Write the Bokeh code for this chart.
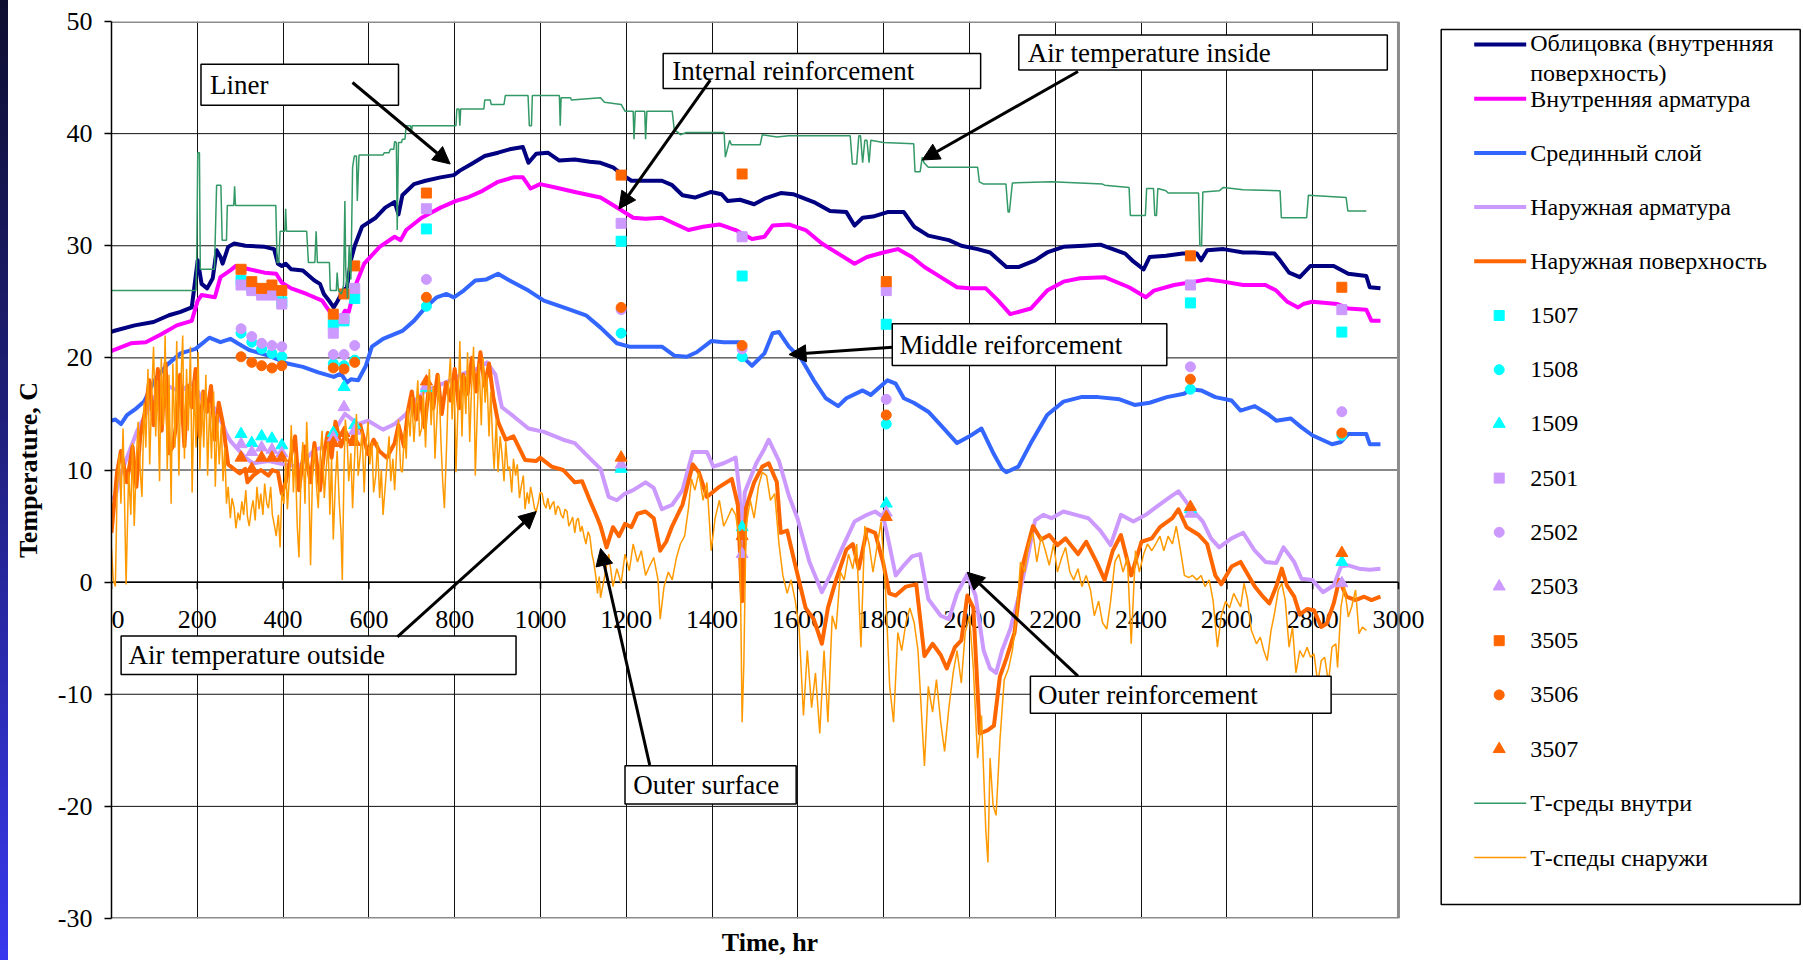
from bokeh.plotting import figure
from bokeh.models import Range1d, BoxAnnotation, Label, Arrow, NormalHead, FixedTicker, PrintfTickFormatter, Div
from bokeh.layouts import row
from bokeh.embed import file_html
from bokeh.resources import INLINE
from bokeh.core.properties import value

# ---------------- data ----------------
x_ticks = [0, 200, 400, 600, 800, 1000, 1200, 1400, 1600, 1800, 2000, 2200, 2400, 2600, 2800, 3000]
y_ticks = [-30, -20, -10, 0, 10, 20, 30, 40, 50]

liner = [(0, 22.3), (5, 22.4), (54, 22.9), (98, 23.2), (134, 23.8), (161, 24.1), (187, 24.5), (196, 27.2), (201, 28.7),
         (210, 26.6), (223, 26.2), (236, 27.1), (245, 29.6), (254, 29.0), (259, 28.4), (272, 29.9), (286, 30.2), (312, 30.0),
         (357, 29.9), (379, 29.7), (388, 28.4), (397, 28.2), (406, 28.4), (419, 27.9), (446, 27.8), (473, 26.9), (486, 26.6),
         (495, 25.7), (509, 25.0), (518, 24.5), (526, 25.0), (540, 26.0), (549, 26.3), (558, 28.7), (567, 30.0), (584, 31.7),
         (616, 32.5), (638, 33.4), (660, 33.9), (669, 32.8), (678, 34.5), (705, 35.5), (732, 35.8), (767, 36.1), (798, 36.3),
         (812, 36.7), (839, 37.3), (870, 38.0), (901, 38.3), (928, 38.6), (959, 38.8), (972, 37.4), (990, 38.2), (1017, 38.3),
         (1044, 37.6), (1080, 37.7), (1115, 37.5), (1140, 37.4), (1169, 37.0), (1192, 36.3), (1212, 35.8), (1283, 35.8),
         (1307, 35.4), (1331, 34.5), (1360, 34.3), (1398, 34.8), (1422, 34.6), (1436, 34.0), (1465, 34.1), (1498, 33.7),
         (1522, 34.2), (1560, 34.7), (1589, 34.6), (1637, 33.9), (1675, 33.1), (1713, 33.0), (1732, 31.8), (1751, 32.5),
         (1775, 32.6), (1809, 33.0), (1847, 33.0), (1871, 31.7), (1904, 30.9), (1952, 30.5), (1981, 30.0), (2019, 29.7),
         (2048, 29.4), (2086, 28.1), (2114, 28.1), (2153, 28.7), (2181, 29.4), (2219, 29.9), (2267, 30.0), (2305, 30.1),
         (2363, 29.3), (2382, 28.6), (2406, 27.9), (2420, 29.0), (2458, 29.1), (2497, 29.3), (2530, 29.3), (2540, 28.7),
         (2554, 29.6), (2592, 29.7), (2638, 29.4), (2665, 29.4), (2711, 29.3), (2724, 28.7), (2745, 27.6), (2770, 27.2),
         (2795, 28.2), (2849, 28.2), (2883, 27.5), (2925, 27.3), (2933, 26.3), (2958, 26.2)]

inner_rebar = [(0, 20.6), (5, 20.7), (45, 21.3), (80, 21.4), (116, 22.1), (152, 22.9), (187, 23.3), (201, 25.1), (210, 25.6),
               (241, 25.4), (254, 27.2), (277, 27.8), (290, 28.2), (321, 27.9), (357, 27.6), (384, 27.5), (397, 26.7),
               (419, 26.2), (455, 25.7), (491, 25.1), (509, 24.1), (518, 23.2), (531, 23.2), (544, 24.2), (553, 24.1),
               (567, 26.3), (589, 28.4), (625, 29.9), (660, 30.8), (674, 30.5), (687, 31.4), (723, 32.5), (767, 33.4),
               (803, 34.0), (830, 34.3), (865, 34.9), (901, 35.7), (937, 36.1), (959, 36.1), (977, 35.1), (999, 35.5),
               (1035, 35.2), (1080, 34.8), (1140, 34.3), (1183, 33.3), (1216, 32.5), (1245, 32.4), (1283, 32.5),
               (1317, 31.9), (1345, 31.4), (1379, 31.7), (1417, 31.9), (1455, 31.4), (1493, 30.6), (1522, 30.8),
               (1541, 31.8), (1579, 31.9), (1618, 31.4), (1656, 30.2), (1694, 29.3), (1732, 28.4), (1761, 29.0),
               (1799, 29.4), (1833, 29.7), (1866, 29.0), (1895, 28.1), (1933, 27.2), (1971, 26.3), (2000, 26.2),
               (2038, 26.2), (2067, 25.1), (2095, 23.9), (2143, 24.4), (2181, 26.0), (2219, 26.8), (2258, 27.1),
               (2315, 27.2), (2372, 26.3), (2411, 25.4), (2430, 26.0), (2477, 26.5), (2525, 26.8), (2554, 27.0),
               (2592, 26.8), (2638, 26.5), (2690, 26.5), (2715, 26.0), (2741, 25.0), (2766, 24.5), (2778, 24.8),
               (2799, 25.0), (2858, 24.8), (2883, 24.4), (2925, 24.3), (2937, 23.3), (2958, 23.3)]

middle_layer = [(0, 14.4), (9, 14.5), (22, 14.1), (36, 14.9), (58, 15.5), (76, 16.1), (100, 18.0), (130, 19.4), (161, 20.4),
                (196, 20.8), (228, 21.8), (254, 21.4), (277, 21.7), (294, 21.3), (321, 20.7), (366, 20.2), (410, 19.5),
                (446, 19.2), (482, 18.7), (518, 18.3), (535, 18.6), (549, 17.8), (558, 18.1), (575, 18.0), (593, 19.3),
                (607, 21.0), (633, 21.7), (678, 22.4), (705, 23.3), (732, 24.5), (758, 25.4), (781, 25.7), (798, 25.4),
                (821, 26.0), (848, 26.9), (874, 27.0), (901, 27.5), (928, 26.9), (972, 26.0), (1008, 25.1), (1062, 24.4),
                (1106, 23.8), (1140, 22.7), (1178, 21.3), (1207, 21.0), (1283, 21.0), (1312, 20.2), (1341, 20.1),
                (1364, 20.5), (1398, 21.5), (1427, 21.4), (1465, 21.4), (1479, 19.8), (1493, 19.3), (1522, 20.4),
                (1541, 22.2), (1556, 22.3), (1579, 21.0), (1608, 19.9), (1637, 18.0), (1665, 16.4), (1694, 15.7),
                (1713, 16.4), (1751, 17.1), (1770, 16.7), (1809, 18.0), (1828, 17.7), (1847, 16.4), (1870, 16.0),
                (1904, 15.2), (1933, 14.0), (1971, 12.4), (2000, 13.0), (2028, 13.7), (2057, 11.4), (2076, 10.1),
                (2086, 9.8), (2114, 10.3), (2143, 12.4), (2181, 14.9), (2219, 16.1), (2260, 16.5), (2300, 16.5),
                (2350, 16.3), (2385, 15.8), (2420, 16.0), (2460, 16.5), (2500, 16.8), (2516, 17.2), (2540, 17.1),
                (2573, 16.5), (2611, 16.2), (2632, 15.3), (2665, 15.7), (2695, 15.0), (2715, 14.4), (2749, 14.6),
                (2774, 13.8), (2799, 13.1), (2845, 12.3), (2866, 12.5), (2883, 13.2), (2925, 13.2), (2933, 12.3),
                (2958, 12.3)]

outer_rebar = [(0, 7.5), (9, 7.6), (20, 9.5), (40, 11.5), (60, 13.5), (80, 15.0), (100, 16.5), (130, 17.5), (160, 17.0),
               (190, 17.8), (214, 16.1), (240, 15.5), (260, 14.0), (268, 13.2), (277, 12.6), (312, 11.1), (330, 10.6),
               (366, 10.8), (402, 10.5), (437, 10.3), (473, 11.8), (500, 12.1), (518, 13.4), (544, 15.0), (575, 14.1),
               (598, 14.4), (633, 13.6), (660, 14.1), (687, 15.0), (705, 16.1), (730, 17.0), (760, 17.5), (790, 18.0),
               (820, 18.6), (850, 19.0), (875, 19.6), (895, 18.5), (905, 16.5), (910, 15.6), (937, 14.8), (972, 13.7),
               (1008, 13.4), (1053, 12.7), (1080, 12.4), (1106, 11.4), (1140, 10.1), (1159, 7.6), (1178, 7.3),
               (1197, 7.9), (1216, 8.2), (1245, 8.9), (1264, 8.4), (1283, 6.5), (1307, 6.9), (1331, 8.2), (1355, 11.6),
               (1388, 11.6), (1403, 10.3), (1427, 10.6), (1455, 11.1), (1464, 8.0), (1470, 2.5), (1476, 8.0),
               (1503, 10.6), (1522, 11.9), (1532, 12.7), (1556, 10.8), (1579, 7.7), (1599, 5.7), (1627, 1.8),
               (1656, -0.9), (1675, 0.6), (1704, 3.1), (1732, 5.4), (1761, 6.0), (1780, 6.3), (1799, 5.8), (1809, 4.1),
               (1828, 0.6), (1847, 1.5), (1866, 2.3), (1885, 2.5), (1904, -1.5), (1933, -3.0), (1952, -3.3),
               (1971, -1.0), (1995, 0.7), (2014, -1.2), (2033, -6.1), (2048, -7.7), (2062, -8.1), (2076, -6.1),
               (2095, -4.2), (2114, -1.4), (2133, 1.8), (2153, 5.5), (2172, 6.0), (2191, 5.7), (2219, 6.3), (2248, 6.0),
               (2277, 5.7), (2305, 4.6), (2329, 3.3), (2353, 6.0), (2382, 5.4), (2411, 6.0), (2439, 6.8), (2468, 7.6),
               (2487, 8.1), (2516, 6.6), (2544, 5.4), (2563, 3.9), (2582, 3.1), (2611, 3.9), (2638, 4.4), (2665, 2.8),
               (2690, 1.8), (2715, 1.7), (2732, 3.1), (2757, 1.8), (2774, 0.3), (2799, 0.2), (2824, -0.9), (2849, -0.3),
               (2866, 1.4), (2883, 1.5), (2908, 1.2), (2933, 1.1), (2958, 1.2)]

outer_surface = [(0, 4.4), (13, 9.8), (22, 11.7), (36, 8.9), (49, 12.1), (58, 8.5), (67, 13.0), (80, 15.6), (88, 18.0),
                 (98, 14.0), (108, 19.0), (117, 13.5), (126, 19.5), (134, 11.5), (143, 12.1), (152, 14.3), (160, 18.5),
                 (170, 12.1), (178, 17.5), (187, 15.6), (196, 19.0), (205, 13.0), (214, 17.0), (223, 15.2), (232, 17.5),
                 (241, 12.7), (250, 16.0), (259, 14.3), (272, 10.5), (285, 10.1), (299, 9.7), (312, 10.1), (317, 8.9),
                 (330, 9.5), (348, 10.0), (366, 9.5), (375, 10.0), (388, 9.8), (397, 7.9), (406, 8.9), (419, 11.4),
                 (428, 13.0), (437, 8.2), (450, 12.1), (464, 8.9), (473, 12.4), (486, 8.2), (495, 11.4), (504, 13.3),
                 (513, 11.1), (522, 14.3), (535, 12.1), (544, 13.0), (557, 12.4), (566, 13.3), (580, 14.0), (598, 11.4),
                 (611, 12.7), (624, 11.7), (642, 11.1), (660, 12.4), (669, 14.0), (682, 12.1), (691, 15.3), (700, 17.0),
                 (710, 14.5), (720, 16.5), (730, 13.8), (740, 17.5), (750, 15.5), (760, 18.5), (770, 15.0), (780, 17.8),
                 (790, 16.2), (800, 19.0), (810, 15.5), (820, 18.5), (830, 16.8), (840, 20.0), (850, 17.0), (860, 20.5),
                 (870, 17.5), (880, 19.5), (890, 16.5), (901, 14.3), (919, 12.7), (937, 13.0), (964, 10.9), (990, 10.8),
                 (999, 11.1), (1026, 10.3), (1053, 10.0), (1080, 8.9), (1097, 9.0), (1115, 7.3), (1133, 5.7), (1140, 5.0),
                 (1154, 3.1), (1169, 4.9), (1183, 4.1), (1197, 5.2), (1212, 4.9), (1226, 6.1), (1245, 6.3), (1264, 5.7),
                 (1279, 2.8), (1293, 3.6), (1307, 5.0), (1331, 6.9), (1355, 10.5), (1369, 9.8), (1388, 7.6), (1417, 8.5),
                 (1446, 9.2), (1460, 6.9), (1470, -1.7), (1479, 6.6), (1498, 8.9), (1517, 10.3), (1532, 10.6),
                 (1551, 8.9), (1560, 4.4), (1575, 4.6), (1594, 1.5), (1618, -2.3), (1637, -3.3), (1656, -5.5),
                 (1670, -2.3), (1689, 0.2), (1713, 2.9), (1728, 3.4), (1742, 1.2), (1761, 4.7), (1780, 4.4), (1799, 1.7),
                 (1813, -1.0), (1828, -1.2), (1852, -0.4), (1876, -0.2), (1895, -6.6), (1914, -5.5), (1933, -6.5),
                 (1947, -7.7), (1966, -5.8), (1981, -5.2), (1995, -1.2), (2009, -2.3), (2024, -13.5), (2043, -13.2),
                 (2057, -12.8), (2071, -8.4), (2086, -6.8), (2105, -4.5), (2124, 1.5), (2148, 5.0), (2167, 3.8),
                 (2186, 4.2), (2205, 3.3), (2224, 3.9), (2253, 2.5), (2272, 3.6), (2296, 1.8), (2315, 0.2), (2334, 2.8),
                 (2353, 4.2), (2377, 0.6), (2401, 3.6), (2425, 3.9), (2444, 4.9), (2473, 5.7), (2487, 6.5), (2506, 4.9),
                 (2535, 4.2), (2554, 3.4), (2573, 0.6), (2587, -0.2), (2611, 1.4), (2632, 1.8), (2665, -0.4),
                 (2682, -1.2), (2699, -1.9), (2715, -0.4), (2728, 1.2), (2740, -0.3), (2757, -1.3), (2770, -2.9),
                 (2787, -2.4), (2803, -2.5), (2820, -4.0), (2833, -3.7), (2849, -1.9), (2862, 0.2), (2879, -1.3),
                 (2900, -1.6), (2920, -1.3), (2937, -1.6), (2958, -1.3)]

inside_air = [(0, 26.0), (197, 26.0), (199, 30.0), (201, 38.3), (205, 38.3), (207, 27.9), (240, 27.9), (245, 35.4),
              (255, 35.4), (258, 30.5), (268, 30.5), (270, 33.6), (285, 33.6), (287, 35.3), (289, 33.6), (383, 33.6),
              (386, 28.5), (390, 28.5), (393, 31.3), (404, 31.3), (406, 33.3), (408, 31.3), (455, 31.3), (459, 28.5),
              (474, 28.5), (477, 31.3), (480, 28.5), (508, 28.5), (510, 26.0), (524, 26.0), (526, 27.6), (529, 26.0),
              (536, 25.7), (541, 26.5), (544, 34.0), (546, 28.0), (550, 25.3), (554, 30.0), (558, 27.0), (562, 37.0),
              (566, 38.0), (571, 38.0), (573, 34.0), (577, 38.1), (633, 38.1), (636, 38.3), (647, 38.3), (650, 38.6),
              (658, 38.6), (660, 39.3), (664, 39.2), (666, 31.4), (669, 39.2), (676, 39.2), (678, 39.5), (684, 39.5),
              (687, 40.7), (697, 40.7), (699, 40.0), (701, 40.7), (803, 40.7), (805, 42.2), (810, 42.2), (812, 40.7),
              (814, 42.2), (868, 42.2), (870, 43.0), (883, 43.0), (885, 42.6), (915, 42.6), (918, 43.4), (971, 43.4),
              (974, 40.7), (979, 40.7), (981, 43.4), (1044, 43.4), (1046, 40.7), (1048, 43.2), (1070, 43.2),
              (1072, 43.0), (1140, 43.2), (1149, 42.8), (1188, 42.6), (1197, 42.0), (1216, 42.0), (1218, 39.5),
              (1221, 42.0), (1243, 42.0), (1245, 39.5), (1248, 42.0), (1307, 42.0), (1312, 40.3), (1321, 40.1),
              (1326, 39.9), (1340, 40.1), (1428, 40.1), (1431, 37.9), (1441, 39.4), (1445, 39.0), (1512, 39.0),
              (1517, 39.9), (1551, 39.7), (1579, 39.8), (1722, 39.8), (1727, 37.3), (1737, 37.3), (1742, 39.8),
              (1746, 39.8), (1751, 37.4), (1756, 39.4), (1761, 39.4), (1766, 37.4), (1770, 39.4), (1799, 39.2),
              (1870, 39.1), (1873, 36.6), (1885, 36.6), (1890, 37.9), (1894, 37.4), (1904, 37.0), (2019, 37.0),
              (2023, 35.7), (2033, 35.5), (2085, 35.5), (2090, 33.0), (2093, 33.0), (2100, 35.6), (2191, 35.7),
              (2310, 35.5), (2315, 35.4), (2372, 35.2), (2375, 32.7), (2410, 32.7), (2413, 35.1), (2429, 35.1),
              (2432, 32.7), (2436, 32.7), (2439, 35.1), (2458, 34.9), (2463, 34.7), (2534, 34.7), (2537, 30.0),
              (2541, 30.0), (2544, 34.8), (2582, 34.9), (2592, 35.2), (2638, 35.0), (2724, 34.9), (2727, 32.5),
              (2786, 32.5), (2790, 34.5), (2878, 34.3), (2882, 33.1), (2925, 33.1)]

outside_air = [(0, 3.0), (4, 0.2), (9, -0.4), (13, 8.0), (18, 11.4), (22, 7.0), (27, 13.7), (31, 6.0), (34, -0.2), (40, 9.8),
               (45, 6.0), (49, 12.4), (53, 5.0), (58, 11.0), (62, 14.3), (67, 10.0), (71, 7.6), (76, 16.0), (80, 12.0),
               (85, 19.0), (89, 10.5), (94, 17.0), (98, 21.0), (103, 13.0), (107, 18.0), (112, 9.0), (116, 20.0),
               (121, 14.0), (125, 22.0), (130, 10.0), (134, 18.5), (139, 7.0), (143, 19.5), (148, 12.0), (152, 21.5),
               (157, 9.5), (161, 17.0), (166, 22.0), (170, 11.0), (175, 19.0), (179, 13.5), (184, 21.0), (188, 8.0),
               (193, 18.0), (197, 12.0), (202, 20.5), (206, 10.0), (211, 17.0), (215, 12.0), (220, 18.5), (224, 9.5),
               (229, 16.0), (233, 11.0), (238, 17.0), (242, 8.5), (247, 15.0), (251, 10.5), (256, 14.0), (260, 9.0),
               (264, 12.0), (268, 7.0), (272, 8.5), (277, 5.7), (281, 7.5), (286, 6.6), (290, 4.8), (295, 6.2),
               (299, 5.5), (304, 7.2), (308, 6.0), (313, 8.2), (317, 5.8), (321, 5.0), (326, 6.5), (330, 7.3), (335, 5.5),
               (339, 8.5), (344, 6.5), (348, 7.9), (353, 6.0), (357, 8.8), (362, 7.0), (366, 6.6), (371, 8.5), (375, 6.0),
               (380, 5.0), (384, 4.1), (389, 6.0), (393, 3.1), (397, 8.0), (402, 7.0), (406, 11.0), (410, 6.5),
               (415, 9.5), (419, 14.0), (424, 8.0), (428, 11.5), (433, 5.0), (437, 2.2), (442, 10.0), (446, 12.5),
               (451, 7.0), (455, 14.3), (460, 9.0), (464, 1.5), (469, 10.5), (473, 12.0), (478, 8.5), (482, 6.6),
               (487, 11.5), (491, 13.5), (496, 7.5), (500, 9.8), (505, 12.5), (509, 6.0), (513, 11.0), (517, 3.8),
               (522, 9.0), (526, 11.7), (531, 7.0), (535, 4.5), (538, 0.2), (542, 10.0), (545, 14.5), (549, 13.0),
               (553, 9.0), (558, 11.5), (562, 6.6), (566, 10.5), (571, 15.0), (575, 9.5), (580, 11.4), (584, 13.5),
               (589, 8.0), (593, 12.0), (598, 14.3), (602, 10.5), (607, 12.5), (611, 8.0), (616, 9.5), (620, 12.5),
               (625, 7.5), (629, 10.0), (633, 6.0), (638, 8.5), (642, 10.5), (647, 13.0), (651, 9.0), (656, 11.0),
               (660, 8.2), (665, 12.0), (669, 14.5), (674, 10.0), (678, 9.8), (683, 13.5), (687, 11.0), (691, 15.5),
               (696, 13.0), (700, 16.5), (705, 12.5), (709, 15.0), (714, 18.0), (718, 13.0), (723, 13.7), (727, 17.0),
               (732, 12.0), (736, 16.0), (741, 19.0), (745, 14.0), (750, 17.5), (754, 11.0), (759, 15.0), (763, 18.5),
               (768, 12.5), (772, 9.0), (776, 6.6), (781, 12.0), (785, 17.0), (790, 20.0), (794, 14.5), (799, 18.0),
               (803, 9.8), (808, 16.0), (812, 21.5), (817, 13.0), (821, 18.5), (826, 15.0), (830, 20.5), (835, 12.5),
               (839, 17.0), (844, 21.0), (848, 9.5), (853, 15.5), (857, 19.5), (862, 14.0), (866, 20.0), (871, 16.0),
               (875, 18.5), (880, 13.0), (884, 17.0), (889, 12.0), (892, 10.1), (897, 14.5), (901, 9.8), (906, 13.0),
               (910, 11.5), (915, 9.0), (919, 12.5), (924, 10.0), (928, 10.3), (933, 8.0), (937, 11.0), (942, 9.5),
               (946, 10.5), (951, 7.5), (955, 8.5), (960, 9.5), (964, 6.5), (969, 8.0), (973, 7.0), (977, 8.5),
               (982, 7.5), (986, 6.6), (990, 6.3), (995, 7.1), (999, 8.0), (1004, 7.9), (1008, 7.0), (1013, 6.6),
               (1017, 7.5), (1022, 6.5), (1026, 6.9), (1031, 7.2), (1035, 6.0), (1040, 6.8), (1044, 6.6), (1048, 6.0),
               (1053, 5.7), (1057, 6.5), (1062, 6.3), (1066, 5.0), (1071, 5.4), (1075, 5.8), (1080, 4.4), (1084, 5.5),
               (1088, 5.7), (1093, 4.5), (1097, 5.0), (1102, 4.0), (1106, 3.4), (1111, 4.5), (1115, 4.1), (1120, 2.5),
               (1124, 1.8), (1129, 0.5), (1133, -1.0), (1137, 0.5), (1140, -1.4), (1150, 0.6), (1159, 2.5),
               (1169, -0.4), (1178, 1.2), (1188, -0.1), (1197, 2.5), (1207, 1.0), (1216, 3.4), (1226, 1.8), (1235, 2.8),
               (1245, 0.6), (1255, 1.5), (1264, 2.2), (1274, 0.2), (1279, -3.3), (1288, -0.4), (1298, 0.9), (1307, 0.2),
               (1317, 2.2), (1326, 3.4), (1336, 4.1), (1345, 6.6), (1352, 9.2), (1360, 8.2), (1369, 9.8), (1379, 7.3),
               (1388, 8.9), (1398, 2.8), (1407, 5.7), (1417, 7.3), (1427, 5.0), (1436, 5.7), (1446, 6.6), (1455, 6.0),
               (1465, 3.4), (1470, -12.5), (1474, -7.4), (1479, 5.0), (1489, 7.3), (1498, 5.7), (1508, 8.5), (1517, 9.8),
               (1527, 9.5), (1536, 7.3), (1546, 7.9), (1556, 3.4), (1565, 0.6), (1575, -1.0), (1584, 0.2), (1594, -1.7),
               (1603, -4.2), (1613, -11.9), (1622, -6.1), (1632, -11.2), (1641, -8.1), (1651, -13.5), (1661, -6.1),
               (1670, -12.5), (1680, -3.0), (1689, -4.2), (1699, 0.9), (1708, 0.2), (1718, 2.5), (1728, 1.2),
               (1737, 3.4), (1747, -5.8), (1756, 5.0), (1766, 3.4), (1775, 0.9), (1794, 5.4), (1804, -0.4),
               (1814, -9.3), (1823, -12.5), (1833, -4.5), (1842, -6.1), (1852, -3.6), (1861, -2.3), (1871, -3.6),
               (1880, -6.1), (1895, -16.4), (1904, -9.3), (1914, -11.6), (1923, -8.7), (1933, -12.5), (1942, -15.1),
               (1952, -11.2), (1962, -8.1), (1971, -6.1), (1981, -9.0), (1990, -4.5), (2000, -3.0), (2009, -7.7),
               (2019, -15.7), (2028, -11.9), (2038, -22.1), (2043, -25.0), (2048, -15.7), (2055, -19.9), (2062, -20.8),
               (2071, -14.1), (2081, -8.7), (2091, -7.7), (2100, -6.1), (2110, -3.0), (2119, 1.8), (2129, 0.9),
               (2138, 3.4), (2148, 4.4), (2157, 1.8), (2167, 4.1), (2177, 2.8), (2186, 1.5), (2196, 3.4), (2205, 0.9),
               (2215, 2.2), (2224, 3.1), (2234, 0.9), (2243, 0.2), (2253, 1.2), (2262, -0.4), (2272, 0.6), (2282, -0.7),
               (2291, -3.0), (2301, -1.7), (2310, -3.6), (2320, -4.2), (2329, -1.7), (2339, 1.8), (2348, 2.5),
               (2358, 0.9), (2368, 2.2), (2377, -5.5), (2387, 2.8), (2396, 0.9), (2406, 2.5), (2415, 3.4), (2425, 2.8),
               (2434, 3.4), (2444, 4.1), (2453, 2.8), (2463, 4.1), (2473, 3.4), (2482, 5.0), (2492, 2.8), (2501, 0.6),
               (2511, 0.4), (2520, 0.6), (2530, 0.2), (2540, 0.6), (2549, -0.4), (2559, 0.2), (2568, -1.7),
               (2578, -5.8), (2587, -3.0), (2597, -1.7), (2606, -2.3), (2616, -1.0), (2625, -1.7), (2632, -2.2),
               (2640, -0.1), (2648, -1.5), (2657, -4.3), (2669, -5.5), (2678, -4.9), (2686, -6.1), (2694, -7.0),
               (2703, -4.3), (2711, -2.8), (2720, -0.7), (2728, -0.1), (2736, -1.6), (2745, -5.8), (2753, -4.0),
               (2761, -8.1), (2770, -6.1), (2778, -6.7), (2787, -5.8), (2795, -6.7), (2803, -6.4), (2812, -9.0),
               (2820, -7.0), (2828, -6.7), (2837, -9.0), (2845, -5.8), (2854, -5.5), (2858, -7.6), (2866, -2.2),
               (2874, -0.4), (2883, -3.1), (2891, -2.2), (2900, -0.7), (2908, -4.6), (2916, -4.0), (2925, -4.3)]

# sensor readings (hours and temperatures)
meas_x = [302, 327, 350, 374, 397, 517, 542, 567, 734, 1188, 1470, 1806, 2515, 2868]
s1507 = [26.9, 26.3, 25.9, 25.9, 25.0, 23.0, 23.3, 25.3, 31.5, 30.4, 27.3, 23.0, 24.9, 22.3]
s1508 = [22.2, 21.4, 20.8, 20.4, 20.1, 19.5, 19.3, 19.8, 24.6, 22.2, 20.1, 14.1, 17.2, 13.1]
s1509 = [13.2, 12.4, 13.0, 12.8, 12.2, 13.3, 17.4, 14.0, 17.3, 10.1, 4.9, 7.0, 6.5, 1.8]
s2501 = [26.5, 26.0, 25.6, 25.6, 24.8, 22.2, 23.5, 26.2, 33.3, 32.0, 30.8, 26.0, 26.5, 24.3]
s2502 = [22.6, 21.9, 21.3, 21.1, 21.0, 20.3, 20.3, 21.1, 27.0, 24.3, 20.8, 16.3, 19.2, 15.2]
s2503 = [12.3, 11.6, 12.0, 11.8, 11.5, 12.9, 15.6, 13.5, 17.5, 10.5, 2.5, 6.2, 6.1, -0.1]
s3505 = [27.9, 26.8, 26.2, 26.5, 26.0, 23.9, 25.7, 28.2, 34.7, 36.3, 36.4, 26.8, 29.1, 26.3]
s3506 = [20.1, 19.6, 19.3, 19.1, 19.3, 19.1, 19.0, 19.6, 25.4, 24.5, 21.1, 14.9, 18.1, 13.3]
s3507 = [11.1, 10.1, 11.1, 11.1, 11.1, 12.4, 13.3, 12.5, 17.9, 11.1, 4.1, 5.8, 6.7, 2.6]

legend_labels = ["Облицовка (внутренняя\nповерхность)", "Внутренняя арматура", "Срединный слой",
                 "Наружная арматура", "Наружная поверхность", "1507", "1508", "1509", "2501", "2502", "2503",
                 "3505", "3506", "3507", "Т-среды внутри", "Т-спеды снаружи"]

ann_texts = ["Liner", "Internal reinforcement", "Air temperature inside", "Middle reiforcement",
             "Air temperature outside", "Outer surface", "Outer reinforcement"]

x_title = "Time, hr"
y_title = "Temperature, C"

# ---------------- styles / layout ----------------
FONT = "Liberation Serif"
NAVY, MAGENTA, BLUE, LAVENDER, ORANGE = "#000080", "#FF00FF", "#3366FF", "#CC99FF", "#FF6600"
CYAN, GREEN, YELLOW = "#00FFFF", "#339966", "#FF9900"
BORDER = "#8c8c8c"
X_MIN, X_MAX = x_ticks[0], x_ticks[-1]
Y_MIN, Y_MAX = y_ticks[0], y_ticks[-1]
H = 960                         # canvas height
TOP, BOTTOM = 21, 42            # frame borders (shared by both figures of the row)
FRAME_H = H - TOP - BOTTOM
STRIP_W = 8                     # slide-edge strip at the very left
X_PAD = 70                      # extra room (hours) right of 3000 so the "3000" label is not cut
TICK_LEN = 7 * (Y_MAX - Y_MIN) / FRAME_H

def xs(pairs):
    return [a for a, _ in pairs]

def ys(pairs):
    return [b for _, b in pairs]

strip = Div(text="", width=STRIP_W, height=H, margin=0,
            styles={"background": "linear-gradient(to bottom, #0e0e30 0%, #20207e 45%, #3838ee 100%)"})

p = figure(width=1438 - STRIP_W, height=H, x_range=Range1d(X_MIN, X_MAX + X_PAD), y_range=Range1d(Y_MIN, Y_MAX),
           output_backend="svg", toolbar_location=None,
           min_border_left=111 - STRIP_W, min_border_right=10, min_border_top=TOP, min_border_bottom=BOTTOM)
p.background_fill_color = "white"
p.border_fill_color = "white"
p.outline_line_color = None

# vertical grid from a ticker, horizontal grid drawn only across 0..3000
p.xgrid.ticker = FixedTicker(ticks=x_ticks[1:-1])
p.xgrid.grid_line_color = "#111111"
p.xgrid.grid_line_width = 1
p.ygrid.visible = False
inner_y = y_ticks[1:-1]
p.segment(x0=[X_MIN] * len(inner_y), y0=inner_y, x1=[X_MAX] * len(inner_y), y1=inner_y,
          line_color="#111111", line_width=1)
# plot-area border (top, bottom, right) in grey
p.segment(x0=[X_MIN, X_MIN, X_MAX], y0=[Y_MAX, Y_MIN, Y_MIN], x1=[X_MAX, X_MAX, X_MAX], y1=[Y_MAX, Y_MIN, Y_MAX],
          line_color=BORDER, line_width=3)

# bottom axis carries only the title
xa = p.xaxis[0]
xa.ticker = FixedTicker(ticks=[])
xa.axis_line_color = None
xa.major_tick_line_color = None
xa.minor_tick_line_color = None
xa.major_tick_out = 0
xa.major_tick_in = 0
xa.minor_tick_out = 0
xa.minor_tick_in = 0
xa.major_label_standoff = 0
xa.axis_label = x_title
xa.axis_label_text_font = FONT
xa.axis_label_text_font_size = "26px"
xa.axis_label_text_font_style = "bold"
xa.axis_label_text_color = "black"
xa.axis_label_standoff = 9

# the x axis itself crosses at y = 0
p.segment(x0=[X_MIN], y0=[0], x1=[X_MAX], y1=[0], line_color="black", line_width=1.5)
p.segment(x0=x_ticks, y0=[0] * len(x_ticks), x1=x_ticks, y1=[-TICK_LEN] * len(x_ticks),
          line_color="black", line_width=1.5)
x_tick_labels = [str(t) for t in x_ticks]
p.text(x=x_ticks[:1], y=[0], text=x_tick_labels[:1], text_font=value(FONT), text_font_size="26px",
       text_color="black", text_align="left", text_baseline="middle", y_offset=37)
p.text(x=x_ticks[1:], y=[0] * (len(x_ticks) - 1), text=x_tick_labels[1:], text_font=value(FONT),
       text_font_size="26px", text_color="black", text_align="center", text_baseline="middle", y_offset=37)

ya = p.yaxis[0]
ya.ticker = FixedTicker(ticks=y_ticks)
ya.formatter = PrintfTickFormatter(format="%d")
ya.axis_line_color = "black"
ya.axis_line_width = 1.5
ya.major_tick_line_color = "black"
ya.major_tick_line_width = 1.5
ya.major_tick_in = 0
ya.major_tick_out = 7
ya.minor_tick_in = 0
ya.minor_tick_out = 0
ya.major_label_text_font = FONT
ya.major_label_text_font_size = "26px"
ya.major_label_text_color = "black"
ya.major_label_standoff = 12
ya.axis_label = y_title
ya.axis_label_text_font = FONT
ya.axis_label_text_font_size = "26px"
ya.axis_label_text_font_style = "bold"
ya.axis_label_text_color = "black"
ya.axis_label_standoff = 12

# lines (Excel series order)
p.line(xs(liner), ys(liner), line_color=NAVY, line_width=4, line_join="round")
p.line(xs(inner_rebar), ys(inner_rebar), line_color=MAGENTA, line_width=4, line_join="round")
p.line(xs(middle_layer), ys(middle_layer), line_color=BLUE, line_width=4, line_join="round")
p.line(xs(outer_rebar), ys(outer_rebar), line_color=LAVENDER, line_width=4, line_join="round")
p.line(xs(outer_surface), ys(outer_surface), line_color=ORANGE, line_width=4, line_join="round")

markers = [(s1507, "square", CYAN, 10), (s1508, "circle", CYAN, 10), (s1509, "triangle", CYAN, 12),
           (s2501, "square", LAVENDER, 10), (s2502, "circle", LAVENDER, 10), (s2503, "triangle", LAVENDER, 12),
           (s3505, "square", ORANGE, 10), (s3506, "circle", ORANGE, 10), (s3507, "triangle", ORANGE, 12)]
for vals, mk, col, sz in markers:
    p.scatter(meas_x, vals, marker=mk, size=sz, fill_color=col, line_color=col)

p.line(xs(inside_air), ys(inside_air), line_color=GREEN, line_width=1.5)
p.line(xs(outside_air), ys(outside_air), line_color=YELLOW, line_width=1.5)

# annotations: (left, right, top, bottom) boxes, text x, arrow (x0, y0, x1, y1)
ann_boxes = [(208.6, 669.0, 46.19, 42.54), (1286, 2026, 47.15, 44.03), (2115, 2974, 48.79, 45.67),
             (1820, 2460, 23.04, 19.32), (22.4, 943, -4.81, -8.23), (1197, 1596, -16.38, -19.79),
             (2142, 2843, -8.39, -11.69)]
ann_tx = [229.6, 1307, 2136, 1837, 39.6, 1216, 2160]
ann_arrows = [(561.8, 44.56, 789.5, 37.29), (1395.8, 44.78, 1182.8, 33.28), (2253, 45.54, 1889.7, 37.65),
              (1820.5, 20.95, 1579.3, 20.30), (666.4, -4.88, 990.2, 6.30), (1254.6, -16.31, 1140, 3.0),
              (2253, -8.39, 1994.9, 0.88)]
for txt, (l, r, t, b), tx in zip(ann_texts, ann_boxes, ann_tx):
    p.add_layout(BoxAnnotation(left=l, right=r, top=t, bottom=b, fill_color="white", fill_alpha=1.0,
                               line_color="black", line_width=1.5, line_alpha=1.0))
    p.add_layout(Label(x=tx, y=(t + b) / 2, text=txt, text_font=FONT, text_font_size="27px",
                       text_color="black", text_baseline="middle", text_align="left"))
for x0, y0, x1, y1 in ann_arrows:
    p.add_layout(Arrow(end=NormalHead(size=17, fill_color="black", line_color="black"),
                       x_start=x0, y_start=y0, x_end=x1, y_end=y1, line_color="black", line_width=3))

# ---------------- legend panel (pixel coordinates inside its frame) ----------------
LW = 364
lg = figure(width=LW, height=H, x_range=Range1d(-2.7, LW - 2.7), y_range=Range1d(FRAME_H, 0),
            output_backend="svg", toolbar_location=None, x_axis_location=None, y_axis_location=None,
            min_border_left=0, min_border_right=0, min_border_top=TOP, min_border_bottom=BOTTOM)
lg.background_fill_color = "white"
lg.border_fill_color = "white"
lg.outline_line_color = None
lg.xgrid.visible = False
lg.ygrid.visible = False
lg.quad(left=[0], right=[359], top=[8], bottom=[883], fill_color=None, line_color="black", line_width=1.5)

legend_styles = [("line", NAVY, 4), ("line", MAGENTA, 4), ("line", BLUE, 4), ("line", LAVENDER, 4),
                 ("line", ORANGE, 4)] + [(mk, col, sz) for _, mk, col, sz in markers] + \
                [("line", GREEN, 1.5), ("line", YELLOW, 1.5)]
LY0, LPITCH = 23, 54.2
for i, (label, (kind, col, w)) in enumerate(zip(legend_labels, legend_styles)):
    yy = LY0 + i * LPITCH
    if kind == "line":
        lg.line([33, 85], [yy, yy], line_color=col, line_width=w)
    else:
        lg.scatter([58], [yy], marker=kind, size=w, fill_color=col, line_color=col)
    ty = yy + 13.8 if "\n" in label else yy
    lg.text([89], [ty], text=[label], text_font=value(FONT), text_font_size="24px", text_color="black",
            text_baseline="middle", text_align="left", text_line_height=1.15)

layout = row(strip, p, lg)
open("out.html", "w").write(file_html(layout, INLINE))
